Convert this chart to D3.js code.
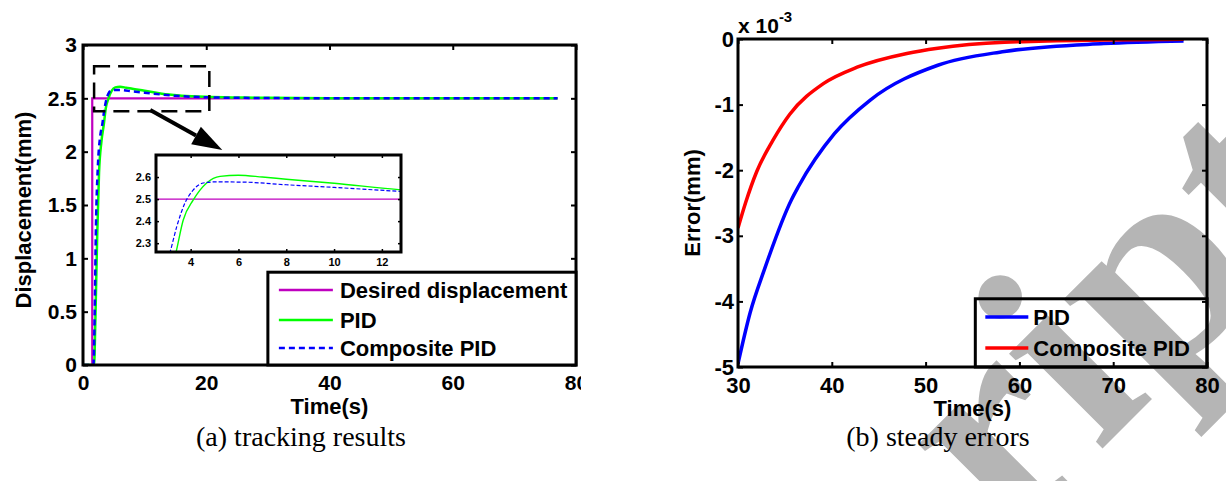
<!DOCTYPE html>
<html><head><meta charset="utf-8">
<script src="https://cdn.jsdelivr.net/npm/d3@7"></script>
<style>
body{margin:0;background:#fff}
svg{display:block}
text{font-family:"Liberation Sans",Arial,sans-serif;font-weight:bold;fill:#000}
</style>
</head><body>
<svg id="c" width="1226" height="481"></svg>
<script>
// ---------- data: (a) tracking results ----------
const tDesired = [0, 1.5, 1.5, 77];
const yDesired = [0, 0, 2.5, 2.5];
const tPID = [0, 1.8, 2.0, 2.3, 2.6, 3.0, 3.39, 3.69, 4.11, 4.67, 5.23, 6.0, 7.0, 8.0, 10.0, 12.8, 16, 20, 25, 30, 35, 40, 50, 60, 77];
const yPID = [0, 0, 0.4, 1.2, 1.8, 2.1, 2.26, 2.405, 2.496, 2.573, 2.603, 2.608, 2.6, 2.59, 2.572, 2.542, 2.525, 2.514, 2.508, 2.505, 2.5027, 2.5014, 2.5004, 2.5001, 2.5];
const tComp = [0, 1.7, 1.9, 2.1, 2.4, 2.8, 3.14, 3.42, 3.76, 4.11, 4.53, 5.0, 6.2, 8, 10, 12.8, 16, 20, 25, 30, 35, 40, 50, 77];
const yComp = [0, 0, 0.5, 1.3, 1.85, 2.15, 2.26, 2.376, 2.482, 2.542, 2.573, 2.578, 2.577, 2.565, 2.553, 2.535, 2.52, 2.51, 2.505, 2.5029, 2.5012, 2.5006, 2.5001, 2.5];
const xTicksA = [0, 20, 40, 60, 80];
const yTicksA = [0, 0.5, 1, 1.5, 2, 2.5, 3];
const xTicksInset = [4, 6, 8, 10, 12];
const yTicksInset = [2.3, 2.4, 2.5, 2.6];
const legendA = ["Desired displacement", "PID", "Composite PID"];

// ---------- data: (b) steady errors (x 10^-3 mm) ----------
const tErrPID = [30, 31.3, 32.8, 35.7, 36.4, 40.3, 44.1, 51.3, 58.4, 69, 77.5];
const eErrPID = [-4.95, -4.17, -3.52, -2.45, -2.26, -1.44, -0.93, -0.40, -0.19, -0.07, -0.03];
const tErrComp = [30, 30.8, 32, 33.7, 35.5, 39.1, 42.7, 48, 51.3, 58.4, 69, 77.5];
const eErrComp = [-2.88, -2.5, -2.02, -1.55, -1.15, -0.68, -0.43, -0.22, -0.14, -0.05, -0.015, -0.005];
const xTicksB = [30, 40, 50, 60, 70, 80];
const yTicksB = [-5, -4, -3, -2, -1, 0];
const legendB = ["PID", "Composite PID"];

const zip = (a, b) => a.map((v, i) => [v, b[i]]);
const svg = d3.select("#c");
const defs = svg.append("defs");

// ---------- watermark (behind everything) ----------
svg.append("text").text("ript")
  .attr("transform", "translate(1007,544) rotate(-45)")
  .style("font-family", '"Liberation Serif","Times New Roman",serif')
  .style("font-weight", "bold").style("font-size", "290px").style("fill", "#b5b5b5");

// ================= chart (a) =================
const xA = d3.scaleLinear().domain([0, 80]).range([83, 576]);
const yA = d3.scaleLinear().domain([0, 3]).range([365, 45]);
defs.append("clipPath").attr("id", "clipA").append("rect")
  .attr("x", xA(0)).attr("y", yA(3)).attr("width", xA(80) - xA(0)).attr("height", yA(0) - yA(3));
defs.append("clipPath").attr("id", "cropA").append("rect")
  .attr("x", 0).attr("y", 0).attr("width", 581).attr("height", 481);

const gA = svg.append("g");
const lineA = d3.line().x(d => xA(d[0])).y(d => yA(d[1]));
const lineAs = d3.line().x(d => xA(d[0])).y(d => yA(d[1])).curve(d3.curveMonotoneX);
const plotA = gA.append("g").attr("clip-path", "url(#clipA)");
plotA.append("path").attr("d", lineA(zip(tDesired, yDesired)))
  .attr("fill", "none").attr("stroke", "#bf00bf").attr("stroke-width", 2.2);
plotA.append("path").attr("d", lineAs(zip(tPID, yPID)))
  .attr("fill", "none").attr("stroke", "#00ff00").attr("stroke-width", 2.5);
plotA.append("path").attr("d", lineAs(zip(tComp, yComp)))
  .attr("fill", "none").attr("stroke", "#0000ff").attr("stroke-width", 2.5).attr("stroke-dasharray", "6,4");

// axes
const axXA = gA.append("g").attr("transform", `translate(0,${yA(0)})`).attr("clip-path", "url(#cropA)")
  .call(d3.axisBottom(xA).tickValues(xTicksA).tickSize(-5).tickPadding(10).tickFormat(d3.format("d")));
const axXAt = gA.append("g").attr("transform", `translate(0,${yA(3)})`)
  .call(d3.axisTop(xA).tickValues(xTicksA).tickSize(-5).tickFormat(""));
const axYA = gA.append("g").attr("transform", `translate(${xA(0)},0)`)
  .call(d3.axisLeft(yA).tickValues(yTicksA).tickSize(-5).tickPadding(6).tickFormat(d => String(d)));
const axYAr = gA.append("g").attr("transform", `translate(${xA(80)},0)`)
  .call(d3.axisRight(yA).tickValues(yTicksA).tickSize(-5).tickFormat(""));
[axXA, axXAt, axYA, axYAr].forEach(g => {
  g.select(".domain").remove();
  g.selectAll(".tick line").attr("stroke", "#000").attr("stroke-width", 2);
  g.selectAll("text").style("font-size", "21px").style("font-family", '"Liberation Sans",Arial,sans-serif').style("font-weight", "bold");
});
gA.append("rect").attr("x", xA(0)).attr("y", yA(3)).attr("width", xA(80) - xA(0)).attr("height", yA(0) - yA(3))
  .attr("fill", "none").attr("stroke", "#000").attr("stroke-width", 3);

gA.append("text").text("Time(s)").attr("x", xA(40)).attr("y", 414).attr("text-anchor", "middle").style("font-size", "22px");
gA.append("text").text("Displacement(mm)").attr("transform", `translate(31,${(yA(0) + yA(3)) / 2 + 5}) rotate(-90)`)
  .attr("text-anchor", "middle").style("font-size", "22px");

// zoom box + arrow
gA.append("rect").attr("x", xA(1.8)).attr("y", yA(2.8)).attr("width", xA(20.5) - xA(1.8)).attr("height", yA(2.38) - yA(2.8))
  .attr("fill", "none").attr("stroke", "#000").attr("stroke-width", 2.5).attr("stroke-dasharray", "16,8");
{
  const x0 = xA(10.9), y0 = yA(2.39), x1 = xA(22.6), y1 = yA(2.016);
  const L = Math.hypot(x1 - x0, y1 - y0), ux = (x1 - x0) / L, uy = (y1 - y0) / L;
  const hl = 30, hw = 10, bx = x1 - ux * hl, by = y1 - uy * hl;
  gA.append("line").attr("x1", x0).attr("y1", y0).attr("x2", bx).attr("y2", by).attr("stroke", "#000").attr("stroke-width", 4);
  gA.append("path").attr("d", `M${x1},${y1}L${bx - uy * hw},${by + ux * hw}L${bx + uy * hw},${by - ux * hw}Z`).attr("fill", "#000");
}

// inset
const xI = d3.scaleLinear().domain([2.55, 12.8]).range([156, 401]);
const yI = d3.scaleLinear().domain([2.26, 2.70]).range([252, 155]);
defs.append("clipPath").attr("id", "clipI").append("rect")
  .attr("x", xI(2.55)).attr("y", yI(2.70)).attr("width", xI(12.8) - xI(2.55)).attr("height", yI(2.26) - yI(2.70));
const gI = gA.append("g");
gI.append("rect").attr("x", xI(2.55)).attr("y", yI(2.70)).attr("width", xI(12.8) - xI(2.55)).attr("height", yI(2.26) - yI(2.70)).attr("fill", "#fff");
const lineI = d3.line().x(d => xI(d[0])).y(d => yI(d[1])).curve(d3.curveMonotoneX);
const lineIl = d3.line().x(d => xI(d[0])).y(d => yI(d[1]));
const plotI = gI.append("g").attr("clip-path", "url(#clipI)");
plotI.append("path").attr("d", lineIl(zip(tDesired, yDesired))).attr("fill", "none").attr("stroke", "#bf00bf").attr("stroke-width", 1.2);
plotI.append("path").attr("d", lineI(zip(tPID, yPID))).attr("fill", "none").attr("stroke", "#00ff00").attr("stroke-width", 1.4);
plotI.append("path").attr("d", lineI(zip(tComp, yComp))).attr("fill", "none").attr("stroke", "#0000ff").attr("stroke-width", 1.2).attr("stroke-dasharray", "4,2");
const axI = [
  gI.append("g").attr("transform", `translate(0,${yI(2.26)})`).call(d3.axisBottom(xI).tickValues(xTicksInset).tickSize(-3).tickPadding(6).tickFormat(d3.format("d"))),
  gI.append("g").attr("transform", `translate(0,${yI(2.70)})`).call(d3.axisTop(xI).tickValues(xTicksInset).tickSize(-3).tickFormat("")),
  gI.append("g").attr("transform", `translate(${xI(2.55)},0)`).call(d3.axisLeft(yI).tickValues(yTicksInset).tickSize(-3).tickPadding(5).tickFormat(d3.format(".1f"))),
  gI.append("g").attr("transform", `translate(${xI(12.8)},0)`).call(d3.axisRight(yI).tickValues(yTicksInset).tickSize(-3).tickFormat(""))
];
axI.forEach(g => {
  g.select(".domain").remove();
  g.selectAll(".tick line").attr("stroke", "#000").attr("stroke-width", 1.5);
  g.selectAll("text").style("font-size", "11px").style("font-family", '"Liberation Sans",Arial,sans-serif').style("font-weight", "bold");
});
gI.append("rect").attr("x", xI(2.55)).attr("y", yI(2.70)).attr("width", xI(12.8) - xI(2.55)).attr("height", yI(2.26) - yI(2.70))
  .attr("fill", "none").attr("stroke", "#000").attr("stroke-width", 3);

// legend (a)
{
  const lx0 = xA(30), ly0 = yA(0.87), lx1 = xA(80), ly1 = yA(0);
  const gL = gA.append("g");
  gL.append("rect").attr("x", lx0).attr("y", ly0).attr("width", lx1 - lx0).attr("height", ly1 - ly0)
    .attr("fill", "#fff").attr("stroke", "#000").attr("stroke-width", 3);
  const cols = ["#bf00bf", "#00ff00", "#0000ff"];
  const dashes = [null, null, "6,4"];
  const ys = [290, 320, 348];
  legendA.forEach((s, i) => {
    gL.append("line").attr("x1", lx0 + 11).attr("x2", lx0 + 65).attr("y1", ys[i]).attr("y2", ys[i])
      .attr("stroke", cols[i]).attr("stroke-width", 2.5).attr("stroke-dasharray", dashes[i]);
    gL.append("text").text(s).attr("x", lx0 + 72).attr("y", ys[i] + 8).style("font-size", "22px");
  });
}

// ================= chart (b) =================
const xB = d3.scaleLinear().domain([30, 80]).range([738, 1207]);
const yB = d3.scaleLinear().domain([-5, 0]).range([367, 39]);
defs.append("clipPath").attr("id", "clipB").append("rect")
  .attr("x", xB(30)).attr("y", yB(0)).attr("width", xB(80) - xB(30)).attr("height", yB(-5) - yB(0));
const gB = svg.append("g");
const lineB = d3.line().x(d => xB(d[0])).y(d => yB(d[1])).curve(d3.curveMonotoneX);
const plotB = gB.append("g").attr("clip-path", "url(#clipB)");
plotB.append("path").attr("d", lineB(zip(tErrPID, eErrPID))).attr("fill", "none").attr("stroke", "#0000ff").attr("stroke-width", 3.5);
plotB.append("path").attr("d", lineB(zip(tErrComp, eErrComp))).attr("fill", "none").attr("stroke", "#ff0000").attr("stroke-width", 3.5);

const axB = [
  gB.append("g").attr("transform", `translate(0,${yB(-5)})`).call(d3.axisBottom(xB).tickValues(xTicksB).tickSize(-5).tickPadding(10).tickFormat(d3.format("d"))),
  gB.append("g").attr("transform", `translate(0,${yB(0)})`).call(d3.axisTop(xB).tickValues(xTicksB).tickSize(-5).tickFormat("")),
  gB.append("g").attr("transform", `translate(${xB(30)},0)`).call(d3.axisLeft(yB).tickValues(yTicksB).tickSize(-5).tickPadding(4).tickFormat(d => String(d))),
  gB.append("g").attr("transform", `translate(${xB(80)},0)`).call(d3.axisRight(yB).tickValues(yTicksB).tickSize(-5).tickFormat(""))
];
axB.forEach(g => {
  g.select(".domain").remove();
  g.selectAll(".tick line").attr("stroke", "#000").attr("stroke-width", 2);
  g.selectAll("text").style("font-size", "22px").style("font-family", '"Liberation Sans",Arial,sans-serif').style("font-weight", "bold");
});
gB.append("rect").attr("x", xB(30)).attr("y", yB(0)).attr("width", xB(80) - xB(30)).attr("height", yB(-5) - yB(0))
  .attr("fill", "none").attr("stroke", "#000").attr("stroke-width", 3);

gB.append("text").text("Time(s)").attr("x", xB(55)).attr("y", 416).attr("text-anchor", "middle").style("font-size", "22px");
gB.append("text").text("Error(mm)").attr("transform", `translate(700,${(yB(0) + yB(-5)) / 2}) rotate(-90)`)
  .attr("text-anchor", "middle").style("font-size", "22px");
{
  const t = gB.append("text").attr("x", xB(30)).attr("y", 33).style("font-size", "21px");
  t.append("tspan").text("x 10");
  t.append("tspan").text("-3").attr("dy", -11).style("font-size", "15px");
}

// legend (b)
{
  const lx0 = xB(55.3), ly0 = yB(-3.96), lx1 = xB(80), ly1 = yB(-5);
  const gL = gB.append("g");
  gL.append("rect").attr("x", lx0).attr("y", ly0).attr("width", lx1 - lx0).attr("height", ly1 - ly0)
    .attr("fill", "none").attr("stroke", "#000").attr("stroke-width", 3);
  const cols = ["#0000ff", "#ff0000"];
  const ys = [317, 348];
  legendB.forEach((s, i) => {
    gL.append("line").attr("x1", lx0 + 10).attr("x2", lx0 + 53).attr("y1", ys[i]).attr("y2", ys[i])
      .attr("stroke", cols[i]).attr("stroke-width", 3.5);
    gL.append("text").text(s).attr("x", lx0 + 58).attr("y", ys[i] + 8).style("font-size", "22px");
  });
}

// captions
svg.append("text").text("(a) tracking results").attr("x", 301).attr("y", 446).attr("text-anchor", "middle")
  .style("font-family", '"Liberation Serif","Times New Roman",serif').style("font-weight", "normal").style("font-size", "28px");
svg.append("text").text("(b) steady errors").attr("x", 938).attr("y", 446).attr("text-anchor", "middle")
  .style("font-family", '"Liberation Serif","Times New Roman",serif').style("font-weight", "normal").style("font-size", "28px");
</script>
</body></html>
